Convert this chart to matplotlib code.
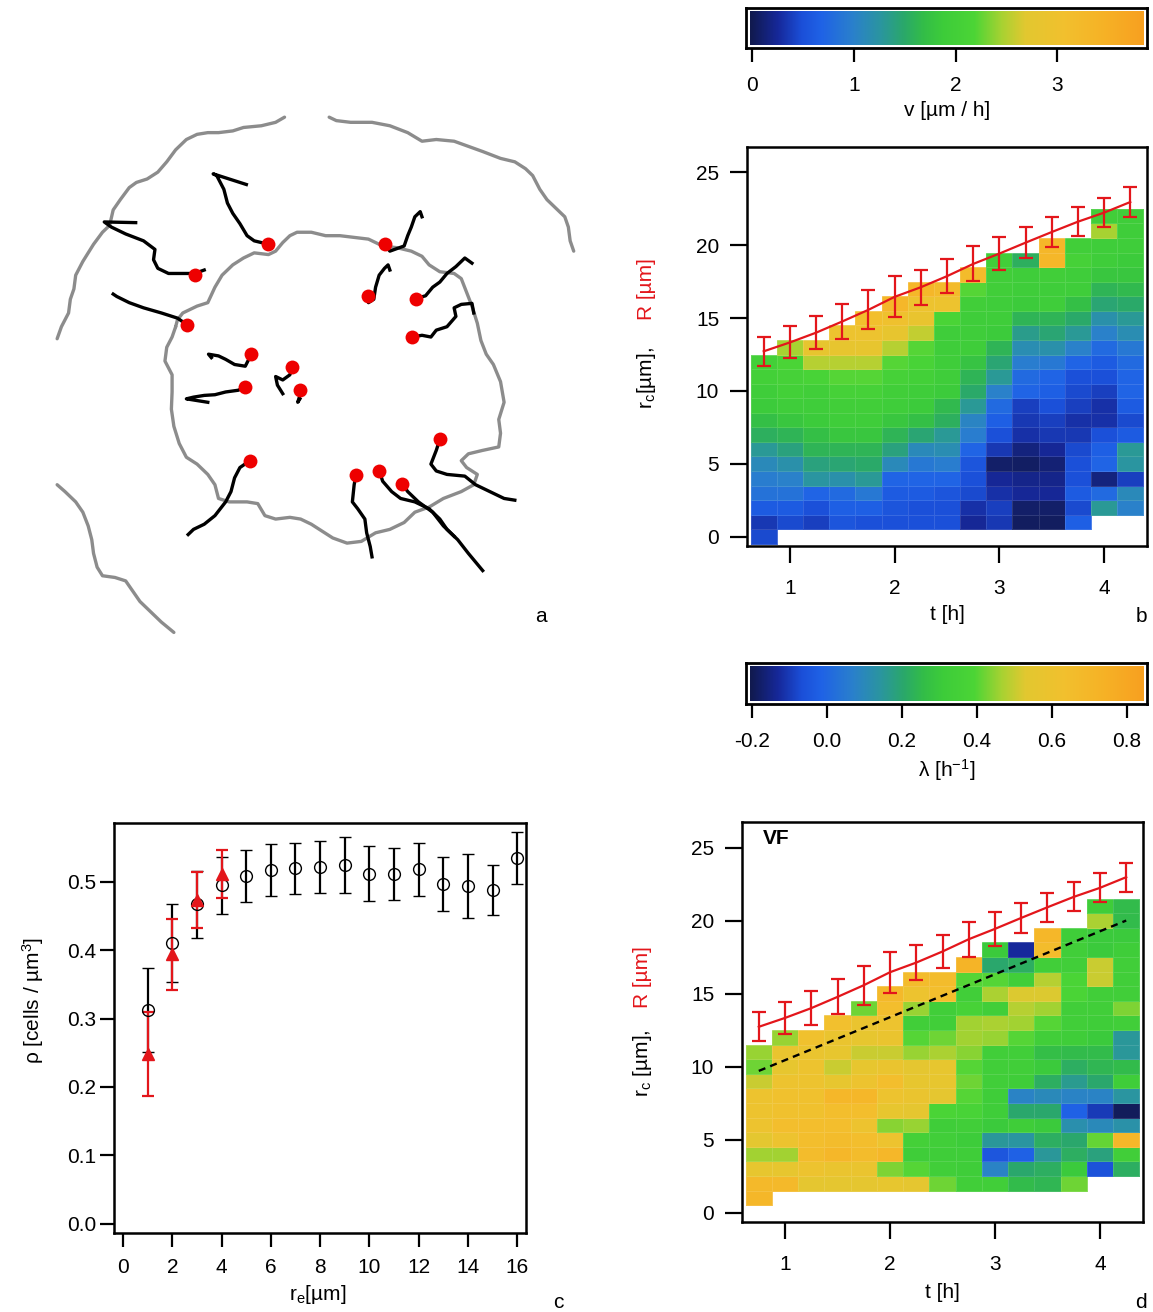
import numpy as np
import matplotlib
matplotlib.use("Agg")
import matplotlib.pyplot as plt
from matplotlib.colors import LinearSegmentedColormap

plt.rcParams['font.family'] = ['Liberation Sans', 'DejaVu Sans']
plt.rcParams['mathtext.fontset'] = 'custom'
plt.rcParams['mathtext.rm'] = 'Liberation Sans'
plt.rcParams['mathtext.it'] = 'Liberation Sans:italic'
plt.rcParams['axes.unicode_minus'] = False

# ---------------- data ----------------
# time bins (h) of the kymographs, radial bins are 1 um wide centred on integers
t_h = [0.75, 1.0, 1.25, 1.5, 1.75, 2.0, 2.25, 2.5, 2.75, 3.0, 3.25, 3.5, 3.75, 4.0, 4.25]
# spheroid radius R(t) and its error
R_um = [12.72, 13.33, 14.0, 14.77, 15.57, 16.46, 17.12, 17.88, 18.72, 19.43,
        20.18, 20.91, 21.62, 22.24, 22.97]
R_err = [1.0, 1.1, 1.15, 1.2, 1.35, 1.4, 1.2, 1.15, 1.2, 1.15, 1.05, 1.0, 1.0, 1.0, 1.0]

# panel b: velocity v [um/h]; each column listed from its lowest radial bin upwards
v_bottom = [0, 1, 1, 1, 1, 1, 1, 1, 1, 1, 1, 1, 1, 2, 2]
v_cols = [
    [0.45, 0.35, 0.6, 0.85, 0.95, 1.1, 1.3, 1.55, 1.7, 1.85, 1.9, 2.0, 2.0],
    [0.45, 0.6, 0.85, 1.0, 1.2, 1.4, 1.6, 1.8, 1.9, 2.0, 2.05, 2.15, 2.45],
    [0.4, 0.5, 0.7, 1.25, 1.4, 1.6, 1.7, 1.85, 1.9, 1.95, 2.1, 2.5, 2.8],
    [0.55, 0.65, 0.75, 1.2, 1.45, 1.6, 1.8, 1.9, 1.95, 2.05, 2.2, 2.5, 2.8, 2.95],
    [0.5, 0.65, 0.9, 1.3, 1.5, 1.6, 1.8, 1.9, 1.95, 2.05, 2.2, 2.5, 2.8, 2.95, 3.1],
    [0.5, 0.55, 0.6, 0.7, 1.1, 1.4, 1.6, 1.8, 1.9, 1.95, 2.05, 2.2, 2.5, 2.8, 3.0, 3.3],
    [0.5, 0.5, 0.6, 0.7, 0.9, 1.1, 1.45, 1.7, 1.85, 1.9, 2.0, 2.1, 2.2, 2.55, 2.85, 2.95, 3.3],
    [0.5, 0.5, 0.55, 0.7, 0.95, 1.15, 1.3, 1.55, 1.65, 1.85, 1.9, 1.9, 1.9, 1.9, 2.15, 2.95, 3.2],
    [0.25, 0.3, 0.45, 0.5, 0.55, 0.7, 0.95, 1.05, 1.3, 1.5, 1.6, 1.75, 1.9, 1.9, 1.9, 1.95, 2.2, 3.2],
    [0.35, 0.4, 0.3, 0.25, 0.08, 0.35, 0.5, 0.65, 0.75, 1.0, 1.3, 1.45, 1.6, 1.85, 1.9, 1.9, 1.95, 1.95, 1.95],
    [0.05, 0.08, 0.25, 0.2, 0.06, 0.15, 0.3, 0.35, 0.4, 0.7, 0.75, 0.95, 1.15, 1.35, 1.6, 1.85, 1.9, 1.9, 1.55],
    [0.05, 0.08, 0.25, 0.2, 0.12, 0.25, 0.35, 0.4, 0.5, 0.65, 0.7, 0.9, 1.2, 1.45, 1.6, 1.9, 1.9, 1.95, 3.3, 3.3],
    [0.65, 0.45, 0.6, 0.5, 0.5, 0.45, 0.35, 0.3, 0.4, 0.45, 0.5, 0.7, 1.0, 1.3, 1.5, 1.7, 1.9, 1.9, 2.05, 1.95],
    [1.3, 0.75, 0.15, 0.7, 0.65, 0.5, 0.3, 0.3, 0.4, 0.5, 0.6, 0.75, 1.0, 1.2, 1.45, 1.6, 1.8, 1.9, 1.9, 2.45, 1.95],
    [1.0, 1.1, 0.4, 1.25, 1.3, 0.6, 0.45, 0.6, 0.7, 0.7, 0.75, 0.9, 1.15, 1.3, 1.5, 1.65, 1.8, 1.85, 1.9, 1.9, 1.9],
]

# panel d: growth rate lambda [1/h]
lam_bottom = [1, 2, 2, 2, 2, 2, 2, 2, 2, 2, 2, 2, 2, 3, 3]
lam_cols = [
    [0.7, 0.68, 0.56, 0.46, 0.54, 0.6, 0.6, 0.6, 0.5, 0.42, 0.45],
    [0.68, 0.56, 0.46, 0.6, 0.65, 0.62, 0.62, 0.6, 0.56, 0.58, 0.45],
    [0.55, 0.6, 0.66, 0.65, 0.65, 0.62, 0.62, 0.6, 0.6, 0.58, 0.62],
    [0.55, 0.58, 0.7, 0.66, 0.65, 0.65, 0.7, 0.56, 0.5, 0.56, 0.58, 0.63],
    [0.55, 0.58, 0.66, 0.65, 0.6, 0.65, 0.7, 0.6, 0.56, 0.5, 0.56, 0.58, 0.42],
    [0.56, 0.43, 0.7, 0.6, 0.44, 0.56, 0.6, 0.65, 0.58, 0.5, 0.58, 0.6, 0.65, 0.68],
    [0.55, 0.4, 0.32, 0.35, 0.45, 0.55, 0.58, 0.56, 0.55, 0.45, 0.4, 0.33, 0.45, 0.6, 0.66],
    [0.42, 0.33, 0.32, 0.33, 0.32, 0.38, 0.55, 0.56, 0.56, 0.47, 0.42, 0.33, 0.33, 0.65, 0.66],
    [0.33, 0.32, 0.32, 0.31, 0.33, 0.37, 0.40, 0.42, 0.40, 0.44, 0.46, 0.46, 0.36, 0.33, 0.40, 0.72],
    [0.33, 0.08, -0.05, 0.15, 0.3, 0.32, 0.32, 0.33, 0.33, 0.33, 0.45, 0.47, 0.33, 0.47, 0.4, 0.2, 0.3],
    [0.25, 0.2, -0.02, 0.14, 0.32, 0.2, 0.08, 0.32, 0.33, 0.33, 0.4, 0.46, 0.48, 0.52, 0.33, 0.22, -0.13],
    [0.24, 0.22, 0.15, 0.22, 0.3, 0.2, 0.1, 0.22, 0.3, 0.26, 0.33, 0.4, 0.46, 0.52, 0.48, 0.33, 0.66, 0.7],
    [0.42, 0.3, 0.22, 0.2, 0.12, -0.02, 0.08, 0.16, 0.22, 0.25, 0.32, 0.33, 0.33, 0.38, 0.38, 0.33, 0.33, 0.32],
    [-0.06, 0.18, 0.41, 0.1, -0.1, 0.08, 0.2, 0.24, 0.25, 0.3, 0.32, 0.33, 0.33, 0.5, 0.5, 0.3, 0.3, 0.47, 0.32],
    [0.22, 0.33, 0.7, 0.13, -0.19, 0.14, 0.32, 0.25, 0.15, 0.15, 0.33, 0.43, 0.33, 0.33, 0.33, 0.32, 0.3, 0.25, 0.25],
]
# dashed guide line in panel d
guide_t = [0.75, 4.25]
guide_r = [9.7, 20.0]

# panel c: density profile
re_um = [1, 2, 3, 4, 5, 6, 7, 8, 9, 10, 11, 12, 13, 14, 15, 16]
rho_open = [0.3125, 0.411, 0.467, 0.495, 0.508, 0.517, 0.5195, 0.522, 0.524, 0.512,
            0.512, 0.518, 0.497, 0.494, 0.488, 0.535]
rho_open_err = [0.061, 0.057, 0.049, 0.042, 0.038, 0.038, 0.037, 0.038, 0.041, 0.04,
                0.038, 0.039, 0.04, 0.047, 0.036, 0.038]
re_red = [1, 2, 3, 4]
rho_red = [0.248, 0.394, 0.474, 0.511]
rho_red_err = [0.061, 0.052, 0.041, 0.035]

# panel a: traced outlines and cell tracks (image coordinates)
outline_tl = [(48, 695), (60, 660), (80, 620), (85, 580), (95, 550), (100, 510), (120, 470),
              (150, 420), (175, 385), (195, 365), (205, 320), (225, 290), (250, 255), (270, 240),
              (300, 230), (330, 210), (355, 180), (380, 145), (410, 115), (440, 100), (470, 95),
              (500, 95), (540, 90), (570, 80), (620, 75), (660, 65), (685, 50)]
outline_tr = [(810, 50), (830, 60), (870, 65), (930, 65), (980, 75), (1030, 95), (1070, 120),
              (1110, 115), (1160, 120), (1200, 135), (1240, 150), (1290, 170), (1330, 180),
              (1360, 200), (1380, 220), (1400, 260), (1420, 290), (1440, 310), (1470, 340),
              (1480, 370), (1485, 410), (1495, 440)]
outline_bl = [(48, 1120), (70, 1140), (100, 1170), (120, 1200), (135, 1240), (145, 1280),
              (150, 1320), (160, 1360), (175, 1385), (210, 1390), (240, 1400), (260, 1430),
              (280, 1460), (310, 1490), (340, 1520), (375, 1550)]
outline_inner = [(380, 660), (370, 690), (355, 720), (350, 760), (370, 800), (370, 850), (368, 900),
                 (375, 950), (390, 1000), (410, 1040), (440, 1060), (470, 1090), (490, 1120),
                 (500, 1160), (530, 1170), (580, 1170), (610, 1175), (630, 1210), (660, 1220),
                 (700, 1215), (730, 1220), (760, 1235), (790, 1255), (820, 1275), (860, 1290),
                 (900, 1285), (940, 1260), (980, 1250), (1020, 1230), (1050, 1200), (1090, 1185),
                 (1130, 1160), (1180, 1140), (1215, 1120), (1225, 1090), (1195, 1070), (1180, 1050),
                 (1200, 1030), (1240, 1020), (1285, 1010), (1290, 970), (1285, 930), (1300, 880),
                 (1290, 820), (1270, 770), (1250, 740), (1235, 700), (1225, 650), (1210, 600),
                 (1195, 560), (1180, 520), (1160, 505), (1120, 500), (1090, 480), (1070, 455),
                 (1040, 440), (1000, 430), (960, 425), (920, 405), (880, 400), (840, 395), (800, 395),
                 (760, 385), (720, 385), (700, 395), (680, 415), (660, 440), (640, 450), (600, 445),
                 (570, 460), (540, 480), (510, 510), (490, 545), (470, 590), (440, 600), (400, 620),
                 (385, 640), (380, 660)]
cell_start_x = [433, 640, 965, 413, 918, 1052, 1043, 592, 706, 575, 728, 1120, 588, 885, 950, 1015]
cell_start_y = [510, 420, 420, 655, 570, 578, 690, 740, 777, 836, 843, 988, 1050, 1093, 1080, 1118]
tracks = [
    [(460, 495), (433, 505), (360, 505), (330, 490), (318, 465), (322, 435), (290, 410), (240, 390),
     (200, 370), (180, 355), (268, 357)],
    [(640, 420), (600, 410), (580, 395), (560, 360), (540, 330), (525, 300), (515, 260), (495, 220),
     (485, 215), (578, 246)],
    [(965, 420), (980, 440), (1020, 425), (1030, 395), (1040, 370), (1050, 340), (1065, 325), (1070, 340)],
    [(413, 655), (385, 635), (340, 620), (290, 605), (250, 590), (215, 572), (205, 565)],
    [(918, 570), (920, 590), (935, 580), (940, 545), (950, 510), (965, 490), (975, 480), (980, 495)],
    [(1052, 578), (1080, 570), (1100, 545), (1120, 530), (1140, 505), (1165, 485), (1190, 460), (1210, 475)],
    [(1043, 690), (1070, 685), (1095, 690), (1110, 670), (1140, 660), (1165, 630), (1160, 605),
     (1180, 595), (1210, 592), (1215, 620)],
    [(592, 740), (575, 775), (545, 770), (520, 755), (500, 745), (472, 740), (480, 750)],
    [(706, 777), (700, 800), (680, 815), (660, 805), (665, 830), (680, 855)],
    [(575, 836), (555, 845), (520, 850), (490, 858), (460, 860), (430, 865), (410, 870), (470, 880)],
    [(728, 843), (728, 860), (722, 880), (728, 870)],
    [(1120, 988), (1110, 1020), (1095, 1060), (1110, 1080), (1140, 1090), (1190, 1095), (1220, 1120),
     (1260, 1140), (1300, 1160), (1330, 1165)],
    [(588, 1050), (560, 1070), (545, 1100), (535, 1140), (520, 1170), (490, 1210), (460, 1235),
     (430, 1250), (415, 1265)],
    [(885, 1093), (880, 1120), (875, 1170), (890, 1190), (910, 1220), (915, 1260), (925, 1300), (930, 1330)],
    [(950, 1080), (960, 1110), (985, 1140), (1010, 1160), (1050, 1170), (1090, 1190), (1120, 1220),
     (1140, 1250), (1170, 1280), (1200, 1320), (1240, 1370)],
    [(1015, 1118), (1030, 1140), (1060, 1170), (1100, 1200), (1130, 1240), (1160, 1270)],
]

# ---------------- styling ----------------
W, H = 1153, 1312
fig = plt.figure(figsize=(W / 100, H / 100), dpi=100)
RED = '#e3161b'
FS = 15

cmap = LinearSegmentedColormap.from_list('kymo', [
    (0.00, '#111a4e'), (0.07, '#16289a'), (0.13, '#1b4fd8'), (0.18, '#1f62e6'),
    (0.26, '#2a80cc'), (0.33, '#2a95a0'), (0.39, '#2aa86a'), (0.44, '#33bd48'),
    (0.49, '#3dcc3a'), (0.57, '#4cd536'), (0.64, '#a8d232'), (0.70, '#e2c830'),
    (0.80, '#f2c02e'), (0.90, '#f6b226'), (1.00, '#f8a020')])


def ax_px(l, t, r, b):
    return fig.add_axes([l / W, 1 - b / H, (r - l) / W, (b - t) / H])


def ftext(x, y, s, **kw):
    kw.setdefault('fontsize', FS)
    return fig.text(x / W, 1 - y / H, s, **kw)


def build_grid(cols, bottoms, nrows=23):
    Z = np.full((nrows, len(cols)), np.nan)
    for j, (col, b0) in enumerate(zip(cols, bottoms)):
        for i, v in enumerate(col):
            Z[b0 + i, j] = v
    return np.ma.masked_invalid(Z)


t_arr = np.array(t_h)
t_edges = np.append(t_arr - 0.125, t_arr[-1] + 0.125)
r_edges = np.arange(-0.5, 23.0, 1.0)


def style_frame(ax, lw=1.8):
    for s in ax.spines.values():
        s.set_linewidth(lw)
        s.set_color('black')


def kymo_panel(ax, cols, bottoms, vmin, vmax, dashed=False):
    Z = build_grid(cols, bottoms)
    ax.pcolormesh(t_edges, r_edges, Z, cmap=cmap, vmin=vmin, vmax=vmax,
                  edgecolors=(1, 1, 1, 0.12), linewidth=0.4, antialiased=False, shading='flat')
    if dashed:
        ax.plot(guide_t, guide_r, color='black', lw=1.7, dashes=(3, 2.2))
    ax.errorbar(t_h, R_um, yerr=R_err, color=RED, lw=1.6, elinewidth=1.6,
                capsize=5, capthick=1.6)
    ax.set_xlim(0.59, 4.41)
    ax.set_ylim(-0.65, 26.75)
    ax.set_xticks([1, 2, 3, 4])
    ax.set_yticks([0, 5, 10, 15, 20, 25])
    ax.tick_params(direction='out', length=12, width=1.6, labelsize=FS, pad=8)
    ax.tick_params(axis='x', pad=12)
    style_frame(ax)


def colorbar_axis(l, t, r, b, vmin, vmax, ticks, fmt):
    ax = ax_px(l, t, r, b)
    span = vmax - vmin
    grad = np.linspace(vmin, vmax, 512)[None, :]
    ax.imshow(grad, cmap=cmap, vmin=vmin, vmax=vmax, aspect='auto',
              extent=[vmin, vmax, 0, 1], interpolation='bilinear')
    m = span * 4.0 / (r - l - 8)
    ax.set_xlim(vmin - m, vmax + m)
    ax.set_ylim(-0.1, 1.1)
    ax.set_yticks([])
    ax.set_xticks(ticks)
    ax.set_xticklabels([fmt.format(v) for v in ticks])
    ax.tick_params(direction='out', length=10, width=1.6, labelsize=FS, pad=10)
    style_frame(ax, 2.0)
    return ax


# ---------------- panel a ----------------
axa = ax_px(30, 95, 600, 650)
axa.set_xlim((30 - 40) / 0.357, (600 - 40) / 0.357)
axa.set_ylim((650 - 100) / 0.3435, (95 - 100) / 0.3435)
axa.axis('off')
for path in (outline_tl, outline_tr, outline_bl, outline_inner):
    xs, ys = zip(*path)
    axa.plot(xs, ys, color='#8c8c8c', lw=2.4, solid_joinstyle='round', solid_capstyle='round')
for tr in tracks:
    xs, ys = zip(*tr)
    axa.plot(xs, ys, color='black', lw=2.4, solid_joinstyle='round')
axa.plot(cell_start_x, cell_start_y, 'o', color='#ee0000', ms=10, mec='none', zorder=5)
ftext(541, 617, 'a', ha='center', va='center')

# ---------------- panel b ----------------
colorbar_axis(746, 8, 1147, 48, -0.02, 3.84, [0, 1, 2, 3], '{:d}')
ftext(947, 111, 'v [µm / h]', ha='center', va='center')
axb = ax_px(747, 147, 1147, 546)
kymo_panel(axb, v_cols, v_bottom, -0.02, 3.84)
ftext(947, 615, 't [h]', ha='center', va='center')
ftext(647, 378, r'r$_\mathrm{c}$[µm],', rotation=90, ha='center', va='center')
ftext(647, 289, 'R [µm]', rotation=90, ha='center', va='center', color=RED)
ftext(1141, 617, 'b', ha='center', va='center')

# ---------------- panel d ----------------
colorbar_axis(746, 663, 1147, 704, -0.206, 0.843, [-0.2, 0.0, 0.2, 0.4, 0.6, 0.8], '{:.1f}')
ftext(947, 770, r'λ [h$^{-1}$]', ha='center', va='center')
axd = ax_px(742, 822, 1143, 1222)
kymo_panel(axd, lam_cols, lam_bottom, -0.206, 0.843, dashed=True)
ftext(776, 838, 'VF', ha='center', va='center', fontweight='bold')
ftext(942, 1293, 't [h]', ha='center', va='center')
ftext(642, 1063, r'r$_\mathrm{c}$ [µm],', rotation=90, ha='center', va='center')
ftext(642, 977, 'R [µm]', rotation=90, ha='center', va='center', color=RED)
ftext(1141, 1302, 'd', ha='center', va='center')

# ---------------- panel c ----------------
axc = ax_px(114, 823, 526, 1233)
axc.errorbar(re_um, rho_open, yerr=rho_open_err, fmt='o', mfc='none', mec='black',
             color='black', ms=8.5, mew=1.0, elinewidth=1.6, capsize=4, capthick=1.6)
axc.errorbar(re_red, rho_red, yerr=rho_red_err, fmt='^', color=RED, mec=RED,
             ms=8, elinewidth=1.6, capsize=4, capthick=1.6)
axc.set_xlim(-0.37, 16.36)
axc.set_ylim(-0.0136, 0.586)
axc.set_xticks(range(0, 17, 2))
axc.set_yticks([0.0, 0.1, 0.2, 0.3, 0.4, 0.5])
axc.set_yticklabels(['0.0', '0.1', '0.2', '0.3', '0.4', '0.5'])
axc.tick_params(direction='out', length=10, width=1.6, labelsize=FS, pad=3)
axc.tick_params(axis='x', pad=8)
style_frame(axc)
ftext(318, 1295, r'r$_\mathrm{e}$[µm]', ha='center', va='center')
ftext(33, 1000, r'ρ [cells / µm$^3$]', rotation=90, ha='center', va='center')
ftext(558, 1302, 'c', ha='center', va='center')

fig.savefig('out.png', dpi=100)
